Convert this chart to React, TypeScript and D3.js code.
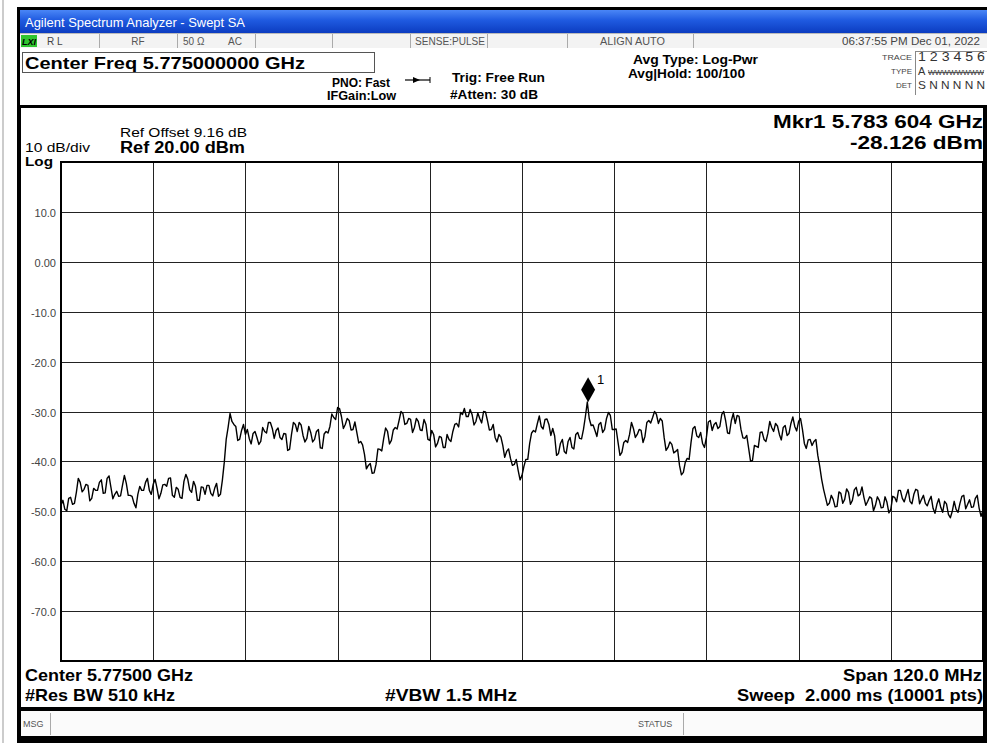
import React, { useEffect, useRef } from 'react';
import * as d3 from 'd3';

const W = 987;
const H = 743;

// sweep settings shown on screen
const centerGHz = 5.775;
const spanMHz = 120;
const refLevel = 20;
const dbPerDiv = 10;
const stepMHz = 0.25; // spacing of the values

const yTickValues = [10, 0, -10, -20, -30, -40, -50, -60, -70];
const yTickLabels = ['10.0', '0.00', '-10.0', '-20.0', '-30.0', '-40.0', '-50.0', '-60.0', '-70.0'];

// trace, dBm, every 0.25 MHz from 5.715 GHz
const traceLowStart = [
  -48.8, -47.8, -49.6, -49.9, -47.4, -47.2, -48.6, -48.4, -46.2, -43.4,
  -44.2, -46.1, -45.6, -44.6, -44.8, -47.9, -47.4, -45.4, -45.8, -45.8,
  -44.2, -43.7, -46.4, -46.3, -43.4, -42.9, -45.2, -47.5, -46.6, -46.0,
  -47.0, -46.9, -44.8, -42.8, -44.4, -46.8, -46.8, -47.0, -48.4, -49.3,
  -46.6, -45.0, -45.8, -45.8, -44.2, -43.4, -45.8, -46.6, -44.6, -43.6,
  -45.4, -47.5, -46.4, -44.7, -44.6, -45.0, -43.4, -43.3, -46.8, -47.2,
  -45.2, -45.6, -47.2, -47.4, -44.0, -42.6, -43.6, -45.7, -46.2, -44.0,
  -45.0, -47.8, -47.8, -45.1, -45.2, -46.6, -44.8, -44.8, -46.4, -46.9,
  -45.4, -44.4, -47.0, -46.6, -43.8, -40.2, -35.6, -33.2, -30.4, -32.0,
  -32.6, -33.0, -35.8, -35.6, -33.8, -32.6,
];
const traceBandA = [
  -34.6, -33.6, -35.4, -36.5, -34.4, -34.0, -35.2, -36.6, -36.0, -33.2, -34.0, -34.3,
  -32.2, -32.2, -33.4, -35.4, -33.8, -33.3, -35.2, -35.6, -34.4, -34.5, -37.8, -37.6,
  -34.6, -32.2, -32.6, -34.0, -32.2, -32.7, -34.8, -36.1, -35.4, -33.0, -34.2, -36.1,
  -35.6, -34.0, -33.6, -37.3, -37.4, -34.5, -34.0, -34.3, -33.0, -30.5, -31.2, -31.6,
  -29.2, -29.4, -31.0, -33.4, -32.6, -31.4, -31.8, -33.7, -33.6, -32.1, -34.2, -36.3,
  -36.0, -36.7, -38.6, -41.5, -40.8, -40.4, -42.4, -42.3, -40.6, -37.5, -37.6, -37.9,
  -35.4, -33.3, -34.0, -36.5, -35.8, -33.7, -33.2, -33.5, -31.8, -30.0, -30.4, -32.6,
  -32.4, -31.4, -31.6, -34.2, -33.2, -31.4, -32.0, -33.7, -33.8, -31.6, -32.6, -35.6,
  -35.8, -33.8, -34.6, -37.1, -36.4, -35.0, -35.2, -37.2, -37.2, -34.6, -35.6, -36.0,
  -34.0, -32.6, -32.4, -33.1, -30.2, -30.6, -29.4, -31.0, -31.0, -29.6, -30.6, -32.7,
  -32.0, -30.3, -31.4, -32.3, -30.0, -30.1, -31.8, -33.7, -33.6, -32.6, -35.2, -36.1,
  -34.6, -35.1, -36.8, -39.2, -38.0, -37.5, -39.4, -40.8, -40.6, -39.6, -41.8, -43.7,
];
const traceBandB = [
  -42.8, -41.0, -39.6, -39.6, -36.4, -34.3, -33.8, -34.1, -32.4, -30.9, -33.0, -33.5,
  -31.6, -31.5, -32.6, -34.8, -33.4, -34.9, -38.8, -38.4, -36.4, -35.6, -38.0, -38.4,
  -36.0, -35.2, -37.2, -37.5, -34.6, -34.2, -35.4, -35.5, -33.6, -31.0, -28.1, -31.4,
  -32.8, -32.7, -33.8, -35.0, -32.6, -32.2, -34.2, -33.6, -31.4, -30.2, -30.8, -33.6,
  -33.6, -33.5, -36.2, -38.8, -38.2, -36.2, -35.8, -36.2, -34.6, -32.2, -33.4, -35.2,
  -34.6, -33.6, -33.8, -36.2, -35.0, -32.2, -31.8, -32.3, -31.2, -30.0, -30.6, -32.4,
  -31.4, -31.9, -35.2, -37.8, -37.2, -36.1, -36.6, -38.3, -38.0, -37.6, -40.8, -42.7,
  -42.2, -40.2, -39.4, -39.6, -36.2, -33.4, -33.0, -34.9, -35.2, -34.2, -36.4, -37.2,
  -35.2, -32.1, -31.8, -33.8, -32.6, -32.2, -33.4, -33.0, -30.6, -30.0, -31.8, -34.3,
  -34.4, -31.8, -30.4, -32.4, -30.8, -31.0, -33.6, -35.3, -35.4, -34.8, -37.4, -40.0,
  -39.8, -36.8, -37.0, -37.2, -34.2, -34.1, -35.6, -36.0, -34.4, -32.0, -33.2, -34.0,
  -32.4, -32.9, -34.6, -35.7, -33.2, -32.8, -34.8, -34.4, -32.4, -31.1, -33.0, -33.9,
];
const traceLowEnd = [
  -32.0, -31.4, -33.6, -36.4, -37.4, -35.7, -35.6, -36.8, -36.0, -35.6, -38.8, -41.0,
  -43.6, -45.6, -47.2, -48.8, -48.4, -46.8, -47.6, -49.1, -49.0, -46.1, -46.4, -48.4,
  -47.6, -45.5, -46.2, -48.6, -47.8, -45.7, -45.2, -46.9, -46.6, -45.1, -47.2, -48.8,
  -48.0, -47.1, -47.4, -49.9, -48.8, -47.1, -47.8, -49.3, -49.2, -47.1, -48.2, -50.3,
  -49.6, -47.0, -47.2, -48.1, -45.8, -45.8, -47.4, -48.1, -46.8, -45.6, -48.0, -48.5,
  -46.6, -45.6, -45.8, -48.5, -47.6, -46.8, -48.4, -48.9, -47.8, -47.0, -49.4, -50.4,
  -48.6, -47.5, -49.2, -50.2, -48.0, -48.5, -50.6, -51.3, -50.0, -48.0, -49.6, -50.2,
  -48.4, -47.0, -46.8, -49.5, -48.6, -47.7, -49.2, -49.1, -47.4, -46.8, -49.4, -51.0,
  -49.8,
];

const markerFreqGHz = 5.783604;
const markerDbm = -28.126;

const statusCells = ['R L', 'RF', '50 Ω', 'AC', 'SENSE:PULSE', 'ALIGN AUTO', '06:37:55 PM Dec 01, 2022'];

const FONT = "'Liberation Sans', Arial, sans-serif";

export default function App() {
  const svgRef = useRef<SVGSVGElement>(null);

  useEffect(() => {
    document.body.style.margin = '0';
    if (!svgRef.current) return;
    const svg = d3.select(svgRef.current);
    svg.selectAll('*').remove();

    const txt = (x: number, y: number, s: string, size: number, o: any = {}) => {
      const t = svg.append('text')
        .attr('x', x).attr('y', y)
        .attr('font-family', o.family || FONT)
        .attr('font-size', size)
        .attr('font-weight', o.bold ? 'bold' : 'normal')
        .attr('fill', o.fill || '#000')
        .attr('text-anchor', o.anchor || 'start')
        .style('white-space', 'pre')
        .text(s);
      // the screen font is wider than Arial, so stretch to the measured width
      if (o.len) t.attr('textLength', o.len).attr('lengthAdjust', 'spacingAndGlyphs');
      return t;
    };

    const rect = (x: number, y: number, w: number, h: number, fill: string, stroke = 'none', sw = 1) =>
      svg.append('rect').attr('x', x).attr('y', y).attr('width', w).attr('height', h)
        .attr('fill', fill).attr('stroke', stroke).attr('stroke-width', sw);

    const line = (x1: number, y1: number, x2: number, y2: number, stroke: string, sw = 1) =>
      svg.append('line').attr('x1', x1).attr('y1', y1).attr('x2', x2).attr('y2', y2)
        .attr('stroke', stroke).attr('stroke-width', sw);

    rect(0, 0, W, H, '#fff');
    line(3, 0, 3, H, '#999');

    // outer black frame
    rect(17, 7, W - 17, H - 7, '#000');

    // title bar
    const defs = svg.append('defs');
    const g = defs.append('linearGradient').attr('id', 'tb').attr('x1', 0).attr('y1', 0).attr('x2', 0).attr('y2', 1);
    g.append('stop').attr('offset', 0).attr('stop-color', '#4a86f6');
    g.append('stop').attr('offset', 0.45).attr('stop-color', '#1f5ae0');
    g.append('stop').attr('offset', 1).attr('stop-color', '#0c3cc0');
    rect(20, 10, W - 20, 23, 'url(#tb)');
    txt(25, 27, 'Agilent Spectrum Analyzer - Swept SA', 12.5, { fill: '#fff', len: 220 });

    // status row
    rect(20, 33, W - 20, 15, '#f3f3f3');
    line(20, 33.5, W, 33.5, '#bbb');
    [99, 177, 255, 332, 410, 487, 567, 693].forEach((x) => line(x + 0.5, 34, x + 0.5, 48, '#aaa'));
    rect(21, 35, 16, 12, '#2fc52f');
    txt(22, 45, 'LXI', 9, { bold: true, fill: '#000' }).attr('font-style', 'italic');
    txt(47, 45, statusCells[0], 10, { fill: '#444' });
    txt(138, 45, statusCells[1], 10, { fill: '#555', anchor: 'middle' });
    txt(183, 45, statusCells[2], 10, { fill: '#555' });
    txt(228, 45, statusCells[3], 10, { fill: '#555' });
    txt(415, 45, statusCells[4], 10, { fill: '#555', len: 70 });
    txt(600, 45, statusCells[5], 10, { fill: '#555', len: 65 });
    txt(980, 45, statusCells[6], 10, { fill: '#444', anchor: 'end', len: 138 });

    // settings panel
    rect(20, 48, W - 20, 57, '#fff');
    rect(22.5, 52.5, 352, 20, '#fff', '#555', 1);
    txt(25, 69, `Center Freq ${centerGHz.toFixed(9)} GHz`, 16.5, { bold: true, len: 280 });
    txt(332, 87, 'PNO: Fast', 12, { bold: true, len: 58 });
    txt(327, 100, 'IFGain:Low', 12, { bold: true, len: 69 });
    line(405, 80, 430, 80, '#000', 1.2);
    svg.append('path').attr('d', 'M413,77 L420,80 L413,83 Z').attr('fill', '#000');
    line(430, 77, 430, 83, '#000', 1);
    txt(452, 82, 'Trig: Free Run', 13, { bold: true, len: 93 });
    txt(450, 99, '#Atten: 30 dB', 13, { bold: true, len: 88 });
    txt(633, 64, 'Avg Type: Log-Pwr', 12.5, { bold: true, len: 125 });
    txt(628, 78, 'Avg|Hold: 100/100', 12.5, { bold: true, len: 117 });

    txt(912, 60, 'TRACE', 8, { fill: '#444', anchor: 'end', len: 30 });
    txt(912, 74, 'TYPE', 8, { fill: '#444', anchor: 'end' });
    txt(912, 88, 'DET', 8, { fill: '#444', anchor: 'end' });
    line(915.5, 51, 915.5, 95, '#888');
    line(915, 51.5, W, 51.5, '#888');
    txt(918, 61, '1 2 3 4 5 6', 12.5, { fill: '#333', len: 67 });
    txt(918, 75, 'A', 11, { fill: '#333' });
    txt(928, 75, 'WWWWWWWW', 8, { fill: '#333', len: 56 }).attr('text-decoration', 'line-through');
    txt(918, 89, 'S N N N N N', 11.5, { fill: '#333', len: 67 });

    // main display
    rect(21, 108, 962, 599, '#fff');

    const startGHz = centerGHz - spanMHz / 2000;
    const stopGHz = centerGHz + spanMHz / 2000;
    const plot = { left: 61, right: 983, top: 162, bottom: 661 };

    const x = d3.scaleLinear().domain([startGHz, stopGHz]).range([plot.left, plot.right]);
    const y = d3.scaleLinear().domain([refLevel - 10 * dbPerDiv, refLevel]).range([plot.bottom, plot.top]);

    // grid
    d3.range(1, 10).forEach((k) => {
      const gx = Math.round(x(startGHz + (k * spanMHz) / 10000)) + 0.5;
      line(gx, plot.top, gx, plot.bottom, '#222', 1);
    });
    yTickValues.forEach((v, i) => {
      const gy = Math.round(y(v)) + 0.5;
      line(plot.left, gy, plot.right, gy, '#222', 1);
      txt(56, gy + 4, yTickLabels[i], 11, { fill: '#444', anchor: 'end' });
    });
    rect(plot.left, plot.top, plot.right - plot.left, plot.bottom - plot.top, 'none', '#000', 2);

    // trace
    const trace = [...traceLowStart, ...traceBandA, ...traceBandB, ...traceLowEnd];
    const traceLine = d3.line<number>()
      .x((_, i) => x(startGHz + (i * stepMHz) / 1000))
      .y((d) => y(d));
    svg.append('path')
      .attr('d', traceLine(trace))
      .attr('fill', 'none')
      .attr('stroke', '#000')
      .attr('stroke-width', 1.4)
      .attr('stroke-linejoin', 'round');

    // marker
    const mx = x(markerFreqGHz);
    const my = y(markerDbm);
    svg.append('path')
      .attr('d', `M${mx},${my} L${mx + 7},${my - 12.5} L${mx},${my - 25} L${mx - 7},${my - 12.5} Z`)
      .attr('fill', '#000');
    txt(mx + 9, my - 18, '1', 13, { fill: '#000' });

    txt(120, 137, 'Ref Offset 9.16 dB', 13, { len: 127 });
    txt(120, 153, `Ref ${refLevel.toFixed(2)} dBm`, 16, { bold: true, len: 125 });
    txt(25, 152, `${dbPerDiv} dB/div`, 12, { len: 65 });
    txt(25, 166, 'Log', 12, { bold: true, len: 28 });

    txt(983, 128, 'Mkr1 5.783 604 GHz', 19, { bold: true, anchor: 'end', len: 210 });
    txt(983, 149, `${markerDbm.toFixed(3)} dBm`, 19, { bold: true, anchor: 'end', len: 133 });

    txt(25, 681, `Center ${centerGHz.toFixed(5)} GHz`, 17, { bold: true, len: 168 });
    txt(25, 701, '#Res BW 510 kHz', 17, { bold: true, len: 150 });
    txt(385, 701, '#VBW 1.5 MHz', 17, { bold: true, len: 132 });
    txt(982, 681, `Span ${spanMHz.toFixed(1)} MHz`, 17, { bold: true, anchor: 'end', len: 139 });
    txt(983, 701, 'Sweep  2.000 ms (10001 pts)', 17, { bold: true, anchor: 'end', len: 246 });

    // message bar
    rect(21, 711, W - 25, 25, '#fbfbfb');
    line(50.5, 713, 50.5, 735, '#aaa');
    line(683.5, 713, 683.5, 735, '#aaa');
    txt(23, 727, 'MSG', 9, { fill: '#555' });
    txt(638, 727, 'STATUS', 9, { fill: '#555' });
  }, []);

  return <svg ref={svgRef} width={W} height={H} style={{ display: 'block' }} />;
}
